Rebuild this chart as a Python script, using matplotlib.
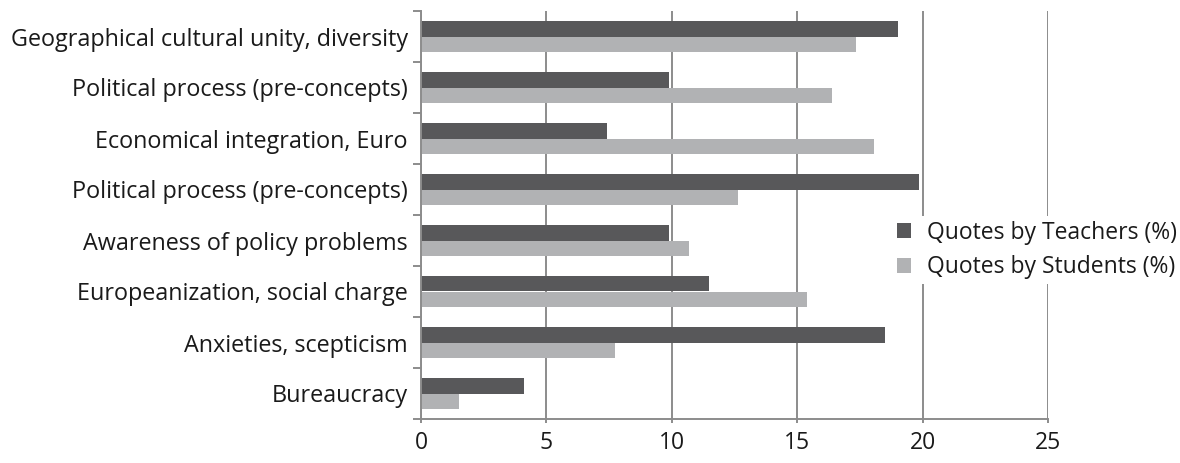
import numpy as np
import matplotlib
matplotlib.use("Agg")
import matplotlib.pyplot as plt

plt.rcParams["font.family"] = ["Open Sans", "DejaVu Sans"]

categories = [
    "Geographical cultural unity, diversity",
    "Political process (pre-concepts)",
    "Economical integration, Euro",
    "Political process (pre-concepts)",
    "Awareness of policy problems",
    "Europeanization, social charge",
    "Anxieties, scepticism",
    "Bureaucracy",
]
teachers = [19.0, 9.9, 7.4, 19.85, 9.9, 11.5, 18.5, 4.1]
students = [17.35, 16.4, 18.05, 12.65, 10.7, 15.4, 7.75, 1.5]
series_labels = ["Quotes by Teachers (%)", "Quotes by Students (%)"]
xticks = [0, 5, 10, 15, 20, 25]

DARK = "#58585a"
LIGHT = "#b1b2b4"
AXIS = "#8c8c8c"
TEXT = "#1a1a1a"

fig = plt.figure(figsize=(11.8, 4.63), dpi=100)
ax = fig.add_axes([421 / 1180, 1 - 419 / 463, (1048 - 421) / 1180, (419 - 11) / 463])

y = np.arange(len(categories))
h = 0.31
ax.barh(y - h / 2, teachers, height=h, color=DARK, label=series_labels[0], zorder=2)
ax.barh(y + h / 2, students, height=h, color=LIGHT, label=series_labels[1], zorder=2)

ax.set_xlim(0, 25)
ax.set_ylim(len(categories) - 0.5, -0.5)
ax.set_xticks(xticks)
ax.set_xticklabels([str(t) for t in xticks])
ax.set_yticks(y)
ax.set_yticklabels(categories)
ax.set_yticks(np.arange(len(categories) + 1) - 0.5, minor=True)

ax.set_axisbelow(True)
ax.grid(axis="x", color=AXIS, lw=1.4, zorder=0)
for s in ("top", "right"):
    ax.spines[s].set_visible(False)
for s in ("left", "bottom"):
    ax.spines[s].set_color(AXIS)
    ax.spines[s].set_linewidth(1.4)

ax.tick_params(axis="y", which="major", length=0, pad=9.5, labelsize=16.8, labelcolor=TEXT)
ax.tick_params(axis="y", which="minor", length=6, width=1.4, color=AXIS)
ax.tick_params(axis="x", length=3, width=1.4, color=AXIS, pad=5.5, labelsize=16.5, labelcolor=TEXT)

leg = ax.legend(loc="center left", bbox_to_anchor=(0.752, 0.414), frameon=True,
                fontsize=16.5, handlelength=0.62, handleheight=0.62,
                handletextpad=0.7, labelspacing=0.45, borderpad=0.2,
                borderaxespad=0)
leg.get_frame().set_facecolor("white")
leg.get_frame().set_edgecolor("none")
leg.get_frame().set_alpha(1)
for t in leg.get_texts():
    t.set_color(TEXT)

fig.savefig("out.png", dpi=100)
